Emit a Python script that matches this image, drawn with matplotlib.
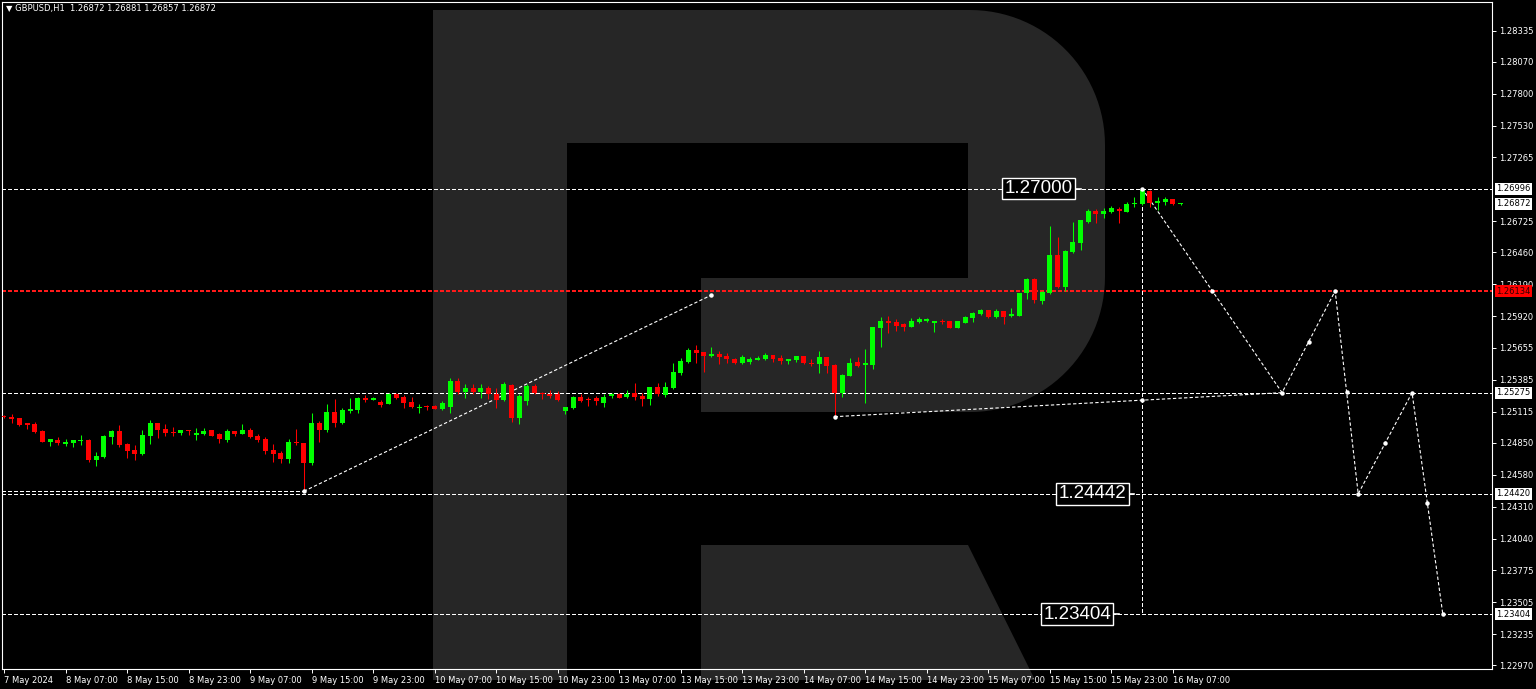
import numpy as np
import matplotlib
matplotlib.use("Agg")
import matplotlib.pyplot as plt
from matplotlib.patches import Polygon

# GBPUSD H1, bar 0 = 7 May 2024 23:00 (weekend bars removed)
opens = [
    1.25078, 1.25067, 1.25058, 1.25016, 1.25008, 1.24951, 1.24861, 1.24875, 1.24844, 1.24852,
    1.24866, 1.24878, 1.24703, 1.24729, 1.24900, 1.24951, 1.24839, 1.24790, 1.24756, 1.24911,
    1.25016, 1.24970, 1.24942, 1.24934, 1.24959, 1.24920, 1.24923, 1.24959, 1.24923, 1.24875,
    1.24951, 1.24928, 1.24959, 1.24911, 1.24883, 1.24790, 1.24765, 1.24714, 1.24861, 1.24847,
    1.24680, 1.25016, 1.24959, 1.25114, 1.25016, 1.25120, 1.25128, 1.25232, 1.25213, 1.25199,
    1.25182, 1.25264, 1.25236, 1.25194, 1.25143, 1.25165, 1.25165, 1.25134, 1.25156, 1.25376,
    1.25283, 1.25317, 1.25278, 1.25317, 1.25264, 1.25213, 1.25340, 1.25058, 1.25207, 1.25334,
    1.25266, 1.25261, 1.25261, 1.25123, 1.25143, 1.25236, 1.25221, 1.25227, 1.25185, 1.25244,
    1.25261, 1.25236, 1.25275, 1.25247, 1.25221, 1.25325, 1.25255, 1.25312, 1.25439, 1.25537,
    1.25635, 1.25616, 1.25587, 1.25601, 1.25584, 1.25559, 1.25528, 1.25537, 1.25551, 1.25559,
    1.25593, 1.25570, 1.25545, 1.25551, 1.25584, 1.25528, 1.25515, 1.25579, 1.25509, 1.25270,
    1.25418, 1.25534, 1.25509, 1.25509, 1.25818, 1.25883, 1.25872, 1.25852, 1.25832, 1.25869,
    1.25883, 1.25861, 1.25880, 1.25880, 1.25824, 1.25866, 1.25908, 1.25937, 1.25973, 1.25911,
    1.25965, 1.25925, 1.25925, 1.26115, 1.26235, 1.26049, 1.26115, 1.26438, 1.26170, 1.26466,
    1.26537, 1.26719, 1.26813, 1.26782, 1.26804, 1.26824, 1.26804, 1.26869, 1.26867, 1.26982,
    1.26875, 1.26889, 1.26911, 1.26872,
]
highs = [
    1.25086, 1.25094, 1.25063, 1.25016, 1.25025, 1.24956, 1.24886, 1.24900, 1.24881, 1.24875,
    1.24920, 1.24886, 1.24773, 1.24920, 1.24959, 1.25002, 1.24852, 1.24835, 1.24959, 1.25044,
    1.25016, 1.25010, 1.24981, 1.24959, 1.24959, 1.24976, 1.24973, 1.24959, 1.24931, 1.24968,
    1.24951, 1.25010, 1.24973, 1.24925, 1.24897, 1.24839, 1.24779, 1.24883, 1.24968, 1.24847,
    1.25106, 1.25038, 1.25179, 1.25221, 1.25143, 1.25227, 1.25241, 1.25258, 1.25241, 1.25213,
    1.25275, 1.25270, 1.25255, 1.25236, 1.25179, 1.25171, 1.25171, 1.25207, 1.25401, 1.25401,
    1.25348, 1.25348, 1.25348, 1.25329, 1.25317, 1.25368, 1.25348, 1.25261, 1.25348, 1.25348,
    1.25283, 1.25300, 1.25292, 1.25156, 1.25247, 1.25261, 1.25241, 1.25247, 1.25261, 1.25272,
    1.25270, 1.25297, 1.25354, 1.25270, 1.25325, 1.25354, 1.25368, 1.25528, 1.25565, 1.25649,
    1.25677, 1.25616, 1.25658, 1.25627, 1.25607, 1.25570, 1.25593, 1.25579, 1.25584, 1.25607,
    1.25593, 1.25593, 1.25559, 1.25584, 1.25584, 1.25559, 1.25627, 1.25579, 1.25515, 1.25433,
    1.25570, 1.25573, 1.25641, 1.25832, 1.25917, 1.25922, 1.25894, 1.25861, 1.25903, 1.25911,
    1.25908, 1.25880, 1.25894, 1.25880, 1.25883, 1.25925, 1.25954, 1.25979, 1.25973, 1.25979,
    1.25965, 1.25993, 1.26120, 1.26241, 1.26241, 1.26134, 1.26683, 1.26593, 1.26480, 1.26719,
    1.26734, 1.26824, 1.26824, 1.26833, 1.26852, 1.26841, 1.26884, 1.26926, 1.27000, 1.26988,
    1.26926, 1.26931, 1.26911, 1.26881,
]
lows = [
    1.25061, 1.25019, 1.24996, 1.24968, 1.24934, 1.24858, 1.24827, 1.24835, 1.24822, 1.24819,
    1.24835, 1.24689, 1.24658, 1.24723, 1.24841, 1.24813, 1.24725, 1.24706, 1.24748, 1.24844,
    1.24894, 1.24911, 1.24911, 1.24917, 1.24920, 1.24878, 1.24917, 1.24906, 1.24852, 1.24861,
    1.24911, 1.24925, 1.24889, 1.24855, 1.24756, 1.24692, 1.24678, 1.24683, 1.24830, 1.24442,
    1.24664, 1.24861, 1.24945, 1.24987, 1.25013, 1.25101, 1.25106, 1.25196, 1.25210, 1.25151,
    1.25179, 1.25224, 1.25148, 1.25143, 1.25106, 1.25126, 1.25134, 1.25128, 1.25106, 1.25261,
    1.25227, 1.25261, 1.25227, 1.25219, 1.25143, 1.25204, 1.25024, 1.25007, 1.25171, 1.25261,
    1.25221, 1.25232, 1.25207, 1.25095, 1.25137, 1.25194, 1.25165, 1.25171, 1.25156, 1.25227,
    1.25227, 1.25232, 1.25213, 1.25162, 1.25171, 1.25247, 1.25241, 1.25306, 1.25424, 1.25528,
    1.25528, 1.25449, 1.25579, 1.25515, 1.25528, 1.25515, 1.25517, 1.25517, 1.25551, 1.25551,
    1.25537, 1.25515, 1.25520, 1.25537, 1.25515, 1.25503, 1.25439, 1.25439, 1.25072, 1.25236,
    1.25416, 1.25495, 1.25185, 1.25472, 1.25664, 1.25782, 1.25798, 1.25798, 1.25827, 1.25866,
    1.25869, 1.25790, 1.25852, 1.25818, 1.25818, 1.25861, 1.25872, 1.25931, 1.25903, 1.25903,
    1.25855, 1.25917, 1.25925, 1.26066, 1.26030, 1.26022, 1.26106, 1.26156, 1.26136, 1.26458,
    1.26480, 1.26711, 1.26711, 1.26748, 1.26796, 1.26711, 1.26799, 1.26841, 1.26861, 1.26846,
    1.26818, 1.26861, 1.26861, 1.26857,
]
closes = [
    1.25069, 1.25050, 1.24999, 1.25002, 1.24942, 1.24861, 1.24881, 1.24847, 1.24861, 1.24875,
    1.24878, 1.24703, 1.24740, 1.24911, 1.24951, 1.24830, 1.24779, 1.24756, 1.24920, 1.25016,
    1.24962, 1.24934, 1.24931, 1.24959, 1.24948, 1.24931, 1.24951, 1.24911, 1.24883, 1.24951,
    1.24925, 1.24959, 1.24903, 1.24875, 1.24782, 1.24756, 1.24714, 1.24861, 1.24847, 1.24680,
    1.25016, 1.24959, 1.25114, 1.25016, 1.25128, 1.25137, 1.25227, 1.25210, 1.25232, 1.25168,
    1.25264, 1.25232, 1.25185, 1.25154, 1.25154, 1.25154, 1.25139, 1.25190, 1.25376, 1.25283,
    1.25317, 1.25278, 1.25317, 1.25266, 1.25213, 1.25348, 1.25058, 1.25249, 1.25334, 1.25270,
    1.25261, 1.25249, 1.25213, 1.25154, 1.25236, 1.25207, 1.25210, 1.25205, 1.25241, 1.25264,
    1.25232, 1.25264, 1.25236, 1.25219, 1.25325, 1.25264, 1.25325, 1.25447, 1.25542, 1.25635,
    1.25607, 1.25587, 1.25601, 1.25579, 1.25559, 1.25528, 1.25579, 1.25559, 1.25570, 1.25593,
    1.25556, 1.25542, 1.25556, 1.25584, 1.25523, 1.25515, 1.25579, 1.25503, 1.25275, 1.25424,
    1.25523, 1.25500, 1.25523, 1.25832, 1.25880, 1.25866, 1.25838, 1.25832, 1.25880, 1.25894,
    1.25894, 1.25880, 1.25869, 1.25824, 1.25880, 1.25917, 1.25945, 1.25973, 1.25911, 1.25967,
    1.25917, 1.25937, 1.26115, 1.26235, 1.26058, 1.26123, 1.26438, 1.26170, 1.26472, 1.26545,
    1.26734, 1.26813, 1.26782, 1.26813, 1.26838, 1.26813, 1.26869, 1.26880, 1.26988, 1.26875,
    1.26897, 1.26911, 1.26867, 1.26872,
]

# time axis labels, one every 8 bars
tick_bars = [0, 8, 16, 24, 32, 40, 48, 56, 64, 72, 80, 88, 96, 104, 112, 120, 128, 136, 144, 152]
tick_labels = ["7 May 2024", "8 May 07:00", "8 May 15:00", "8 May 23:00", "9 May 07:00",
               "9 May 15:00", "9 May 23:00", "10 May 07:00", "10 May 15:00", "10 May 23:00",
               "13 May 07:00", "13 May 15:00", "13 May 23:00", "14 May 07:00", "14 May 15:00",
               "14 May 23:00", "15 May 07:00", "15 May 15:00", "15 May 23:00", "16 May 07:00"]
price_ticks = [1.28335, 1.28070, 1.27800, 1.27530, 1.27265, 1.26725, 1.26460, 1.26190, 1.25920,
               1.25655, 1.25385, 1.25115, 1.24850, 1.24580, 1.24310, 1.24040, 1.23775, 1.23505,
               1.23235, 1.22970]

# levels and drawn objects
white_levels = [1.26996, 1.25275, 1.24420, 1.23404]
red_level = 1.26134
bid_price = 1.26872
swing_low_bar, swing_low = 39, 1.24442
rise_end_bar, rise_end = 92, 1.26100
support_x = [108, 166.2]
support_y = [1.25072, 1.25275]
high_bar, high_price, target_price = 148, 1.27000, 1.23404
forecast_x = [148, 166.2, 173.1, 176.1, 183.1, 187.1]
forecast_y = [1.27000, 1.25275, 1.26134, 1.24420, 1.25275, 1.23404]
label_texts = ["1.27000", "1.24442", "1.23404"]
label_bars = [140, 147, 145]
label_prices = [1.27000, 1.24420, 1.23404]

# pixel geometry of the terminal window
W, H = 1536, 689
X0_PX, DX_PX = 4.0, 7.69
AX_L, AX_R, AX_T, AX_B = 2, 1492, 2, 669
P_TOP, P_PER_PX = 1.28593, 0.0000845

fig = plt.figure(figsize=(W / 100, H / 100), dpi=100, facecolor="black")
ax = fig.add_axes([AX_L / W, 1 - AX_B / H, (AX_R - AX_L) / W, (AX_B - AX_T) / H])
ax.set_facecolor("black")
ax.set_xlim((AX_L - X0_PX) / DX_PX, (AX_R - X0_PX) / DX_PX)
ax.set_ylim(P_TOP - AX_B * P_PER_PX, P_TOP - AX_T * P_PER_PX)


def fig_xy(pts):
    return [(x / W, 1 - y / H) for x, y in pts]


def arc(cx, cy, r, a0, a1, n=30):
    a = np.radians(np.linspace(a0, a1, n))
    return [(cx + r * np.cos(t), cy - r * np.sin(t)) for t in a]


# broker watermark "R"
wm = "#262626"
stem = [(433, 10), (567, 10), (567, 680), (433, 680)]
bowl = ([(567, 10), (970, 10)] + arc(970, 145, 135, 90, 0) + arc(970, 277, 135, 0, -90)
        + [(701, 412), (701, 278), (968, 278), (968, 143), (567, 143)])
leg = [(701, 545), (968, 545), (1035, 680), (701, 680)]
for shape in (stem, bowl, leg):
    ax.add_patch(Polygon(fig_xy(shape), closed=True, transform=fig.transFigure,
                         facecolor=wm, edgecolor="none", zorder=0.1, clip_on=False))

# candles
x = np.arange(len(opens))
o, h, l, c = map(np.array, (opens, highs, lows, closes))
cols = np.where(c >= o, "#00ff00", "#ff0000")
ax.vlines(x, l, h, colors=cols, linewidth=0.75, zorder=3)
body = np.maximum(np.abs(c - o), P_PER_PX)
ax.bar(x, body, bottom=np.minimum(o, c), width=0.65, color=cols, linewidth=0, zorder=3)

dot = dict(color="white", linewidth=0.8, linestyle=(0, (3, 2)), zorder=2)
for lv in white_levels:
    ax.axhline(lv, antialiased=False, **dot)
ax.axhline(red_level, color="#ff1a1a", linewidth=1.1, linestyle=(0, (2.5, 1.5)),
           antialiased=False, zorder=2)

xl = ax.get_xlim()[0]
ax.plot([xl, swing_low_bar], [swing_low, swing_low], antialiased=False, **dot)
ax.plot([swing_low_bar, rise_end_bar], [swing_low, rise_end], **dot)
ax.plot(support_x, support_y, **dot)
ax.plot([high_bar, high_bar], [high_price, target_price], antialiased=False, **dot)
ax.plot(forecast_x, forecast_y, **dot)

mx = list(forecast_x) + [(a + b) / 2 for a, b in zip(forecast_x[:-1], forecast_x[1:])]
my = list(forecast_y) + [(a + b) / 2 for a, b in zip(forecast_y[:-1], forecast_y[1:])]
mx += [swing_low_bar, rise_end_bar, support_x[0], high_bar]
my += [swing_low, rise_end, support_y[0], np.interp(high_bar, support_x, support_y)]
ax.plot(mx, my, linestyle="none", marker="o", markersize=2.2, color="white", zorder=4)

# price labels on the chart
for txt, b, p in zip(label_texts, label_bars, label_prices):
    gap = 8 / DX_PX
    ax.plot([b - gap, b], [p, p], color="white", linewidth=1.2, zorder=5)
    ax.text(b - gap, p, txt, ha="right", va="center", fontsize=13.5, color="white",
            family="Liberation Sans", zorder=6,
            bbox=dict(boxstyle="square,pad=0.12", facecolor="black", edgecolor="white", linewidth=1))

# axes styling
for s in ax.spines.values():
    s.set_color("white")
    s.set_linewidth(0.8)
ax.yaxis.tick_right()
ax.set_yticks(price_ticks)
ax.set_yticklabels([f"{v:.5f}" for v in price_ticks])
ax.set_xticks(tick_bars)
ax.set_xticklabels(tick_labels, ha="left")
ax.tick_params(axis="both", colors="white", labelsize=6, length=3, width=0.7, pad=2)

for p, fc, tc in [(1.26996, "white", "black"), (bid_price, "white", "black"),
                  (red_level, "#ff0000", "#300000"), (1.25275, "white", "black"),
                  (1.24420, "white", "black"), (1.23404, "white", "black")]:
    ax.annotate(f"{p:.5f}", xy=(1, p), xycoords=("axes fraction", "data"),
                xytext=(3.2, 0), textcoords="offset points", ha="left", va="center",
                fontsize=6, color=tc, annotation_clip=False, zorder=7,
                bbox=dict(boxstyle="square,pad=0.18", facecolor=fc, edgecolor="none"))

fig.text(6 / W, 1 - 9 / H, "\u25bc GBPUSD,H1  1.26872 1.26881 1.26857 1.26872",
         fontsize=6, color="white", va="center", ha="left")

fig.savefig("out.png", dpi=100, facecolor="black")
